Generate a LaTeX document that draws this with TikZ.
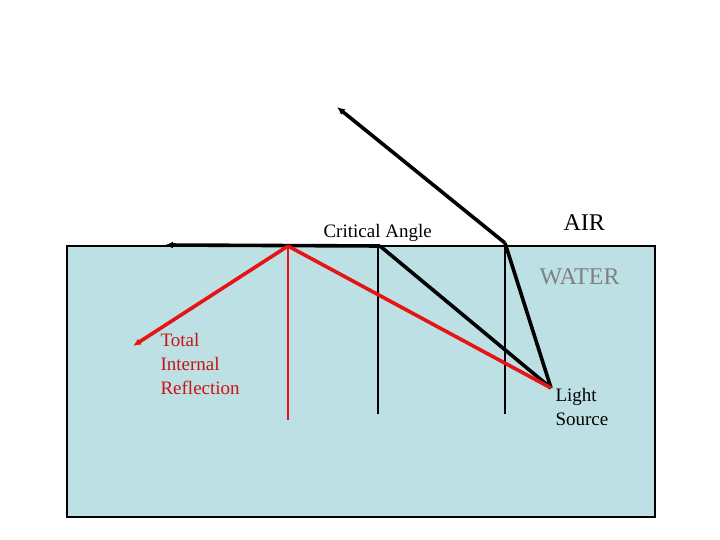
\documentclass[tikz,border=0pt]{standalone}
\usepackage{fontspec}
\setmainfont{Liberation Serif}
\usetikzlibrary{arrows.meta}
\definecolor{water}{RGB}{188,224,228}
\definecolor{tred}{RGB}{230,20,20}
\definecolor{tdred}{RGB}{200,20,20}
\begin{document}
\begin{tikzpicture}[x=1pt,y=-1pt,
  ray/.style={line width=3.6pt,-{Latex[length=8pt,width=7pt]}},
  seg/.style={line width=3.6pt},
  normal/.style={line width=1.6pt},
  lbl/.style={font=\fontsize{19}{24}\selectfont,anchor=west},
  big/.style={font=\fontsize{24}{28}\selectfont,anchor=west}]
\useasboundingbox (0,0) rectangle (720,540);
\node[draw=black,line width=1.6pt,fill=water,minimum width=588pt,minimum height=271pt,anchor=north west,inner sep=0] (water) at (66,245) {};
\coordinate (src) at (551,388);
\coordinate (p1) at (505,243);
\coordinate (p2) at (380,246);
\coordinate (p3) at (288,246);
\coordinate (out1) at (337,107);
\coordinate (out2) at (165,245);
\coordinate (out3) at (133,346);
\coordinate (n1b) at (288,420);
\coordinate (n2a) at (378,246);
\coordinate (n2b) at (378,414);
\coordinate (n3a) at (505,246);
\coordinate (n3b) at (505,414);
\draw[normal,tred] (p3) -- (n1b);
\draw[normal] (n2a) -- (n2b);
\draw[normal] (n3a) -- (n3b);
\draw[seg,line join=round] (src) -- (p1);
\draw[ray] (p1) -- (out1);
\draw[seg] (src) -- (p2);
\draw[ray] (p2) -- (out2);
\draw[seg,tred] (src) -- (p3);
\draw[ray,tred] (p3) -- (out3);
\node[lbl] (ca) at (320,233) {Critical Angle};
\node[big] (air) at (560,223) {AIR};
\node[big,text=gray] (wat) at (536,277) {WATER};
\node[lbl,text=tdred,align=left] (tir) at (157,364) {Total\\Internal\\Reflection};
\node[lbl,align=left] (ls) at (552,407) {Light\\Source};
\end{tikzpicture}
\end{document}
